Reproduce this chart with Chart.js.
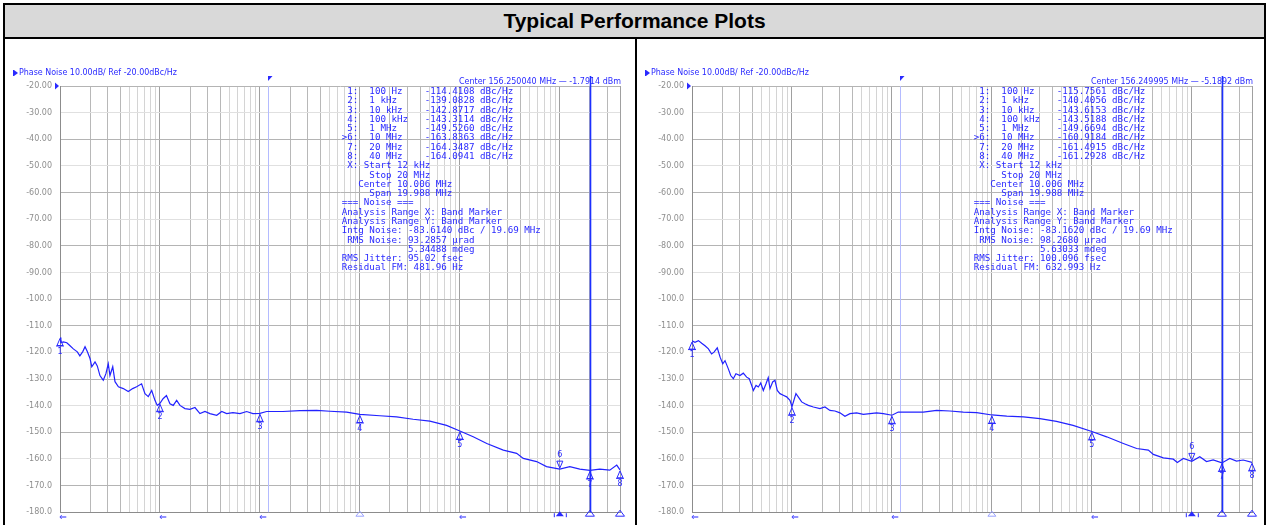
<!DOCTYPE html>
<html>
<head>
<meta charset="utf-8">
<title>Typical Performance Plots</title>
<script src="https://cdn.jsdelivr.net/npm/chart.js@4.4.1/dist/chart.umd.min.js"></script>
<style>
    body { margin: 0; background: #fff; }
    #page { position: relative; width: 1269px; height: 525px; overflow: hidden; background: #fff; }
    #head {
        position: absolute; left: 3px; top: 3px; width: 1263px; height: 36px; box-sizing: border-box;
        border: 2px solid #000; background: #d9d9d9; text-align: center;
        font: bold 21px "Liberation Sans", Arial, sans-serif; line-height: 32px; color: #000;
    }
    #body {
        position: absolute; left: 3px; top: 37px; width: 1263px; height: 600px; box-sizing: border-box;
        border-left: 2px solid #000; border-right: 2px solid #000;
    }
    #divider { position: absolute; left: 635px; top: 37px; width: 2px; height: 600px; background: #000; }
    canvas { position: absolute; top: 40px; }
    #plotLeft { left: 5px; }
    #plotRight { left: 637px; }
</style>
</head>
<body>
<div id="page">
    <div id="head">Typical Performance Plots</div>
    <div id="body"></div>
    <div id="divider"></div>
    <canvas id="plotLeft" width="630" height="485"></canvas>
    <canvas id="plotRight" width="628" height="485"></canvas>
</div>
<script>
// offset frequency (Hz) and phase noise (dBc/Hz)
var leftFreq = [100, 102, 108, 117, 126, 136, 149, 158, 169, 178, 188, 200, 208, 224, 236, 251, 271, 288, 304, 316,
    337, 355, 384, 430, 482, 533, 584, 655, 708, 764, 827, 891, 940, 1000, 1074, 1161, 1259, 1358, 1469, 1585,
    1778, 1995, 2239, 2512, 2818, 3162, 3698, 4150, 4648, 5370, 6310, 7362, 8511, 10000, 11670, 16980, 25120,
    36980, 50120, 73620, 100000, 158500, 233000, 341000, 501200, 736000, 1000000, 1360000, 1860000, 2720000,
    3700000, 4310000, 5860000, 7360000, 10000000, 12600000, 15850000, 20000000, 25100000, 31600000, 37100000, 40000000];
var leftNoise = [-114.4, -116.4, -116.1, -116.4, -117.5, -118.7, -119.8, -121.3, -119.7, -117.9, -119.8, -122.4,
    -125.4, -123.6, -125.1, -128.7, -130.5, -128.0, -124.3, -128.7, -125.4, -131.0, -132.9, -133.6, -134.7, -133.6,
    -132.9, -131.8, -135.5, -136.6, -134.3, -138.0, -139.9, -139.1, -137.4, -136.2, -139.3, -139.9, -138.0, -139.9,
    -141.1, -141.4, -140.7, -143.0, -142.2, -143.0, -143.6, -142.2, -143.0, -142.6, -143.0, -142.2, -143.0, -142.9,
    -142.2, -142.2, -141.9, -141.8, -142.1, -142.4, -143.3, -143.8, -144.2, -145.1, -145.8, -147.4, -149.5, -151.7,
    -154.2, -156.7, -157.9, -159.8, -161.0, -162.9, -163.8, -162.9, -163.8, -164.3, -163.8, -164.2, -162.3, -164.1];

var rightFreq = [100, 107, 116, 125, 135, 146, 157, 166, 179, 191, 203, 214, 231, 244, 259, 275, 302, 326, 352, 374,
    395, 411, 437, 461, 487, 517, 550, 579, 603, 641, 676, 713, 759, 818, 885, 955, 1000, 1096, 1156, 1250, 1349,
    1459, 1637, 1905, 2138, 2399, 2692, 3020, 3388, 3802, 4436, 5176, 6026, 7031, 8204, 10000, 11570, 15140, 20610,
    28050, 38020, 51760, 70470, 100000, 140900, 207000, 302000, 442600, 648600, 1000000, 1406000, 2065000, 2807000,
    3673000, 4121000, 5188000, 6531000, 7161000, 8222000, 10000000, 12020000, 14030000, 16370000, 20000000,
    23990000, 27990000, 32660000, 40000000];
var rightNoise = [-115.7, -116.2, -115.6, -116.6, -117.5, -118.7, -120.6, -119.9, -118.3, -121.8, -124.3, -123.1,
    -126.2, -128.7, -129.9, -128.0, -128.7, -127.8, -129.3, -129.9, -132.4, -134.3, -132.4, -133.0, -131.5, -134.3,
    -131.8, -129.5, -133.6, -131.1, -130.5, -134.3, -135.5, -136.1, -136.7, -138.0, -140.4, -135.5, -136.7, -138.6,
    -139.3, -139.9, -140.5, -141.1, -140.5, -141.8, -142.0, -142.7, -144.0, -143.0, -142.7, -143.3, -143.0, -142.7,
    -143.0, -143.6, -142.4, -142.4, -142.4, -141.8, -142.0, -142.4, -142.6, -143.5, -143.9, -144.2, -144.9, -145.9,
    -147.4, -149.7, -151.7, -154.2, -156.1, -156.7, -158.3, -159.6, -160.1, -161.3, -159.8, -160.9, -159.2, -161.0,
    -160.4, -161.5, -159.8, -160.8, -160.4, -161.3];

// marker readout
var markerFreqs = [100, 1e3, 1e4, 1e5, 1e6, 1e7, 2e7, 4e7];
var markerFreqText = ['100 Hz', '1 kHz', '10 kHz', '100 kHz', '1 MHz', '10 MHz', '20 MHz', '40 MHz'];
var leftMarkers = [-114.4108, -139.0828, -142.8717, -143.3114, -149.5260, -163.8363, -164.3487, -164.0941];
var rightMarkers = [-115.7561, -140.4056, -143.6153, -143.5188, -149.6694, -160.9184, -161.4915, -161.2928];
var activeMarker = 5;
var bandStart = 12e3;
var bandStop = 20e6;

// integrated noise: intg, rms rad, rms deg, jitter, residual FM
var leftSummary = ['-83.6140', '93.2857', '5.34488', '95.02', '481.96'];
var rightSummary = ['-83.1620', '98.2680', '5.63033', '100.096', '632.993'];
var leftCenter = 'Center 156.250040 MHz \u2014 -1.7914 dBm';
var rightCenter = 'Center 156.249995 MHz \u2014 -5.1892 dBm';
var plotTitle = 'Phase Noise 10.00dB/ Ref -20.00dBc/Hz';

var yTickValues = [-20, -30, -40, -50, -60, -70, -80, -90, -100, -110, -120, -130, -140, -150, -160, -170, -180];
var yTickLabels = ['-20.00', '-30.00', '-40.00', '-50.00', '-60.00', '-70.00', '-80.00', '-90.00', '-100.0',
    '-110.0', '-120.0', '-130.0', '-140.0', '-150.0', '-160.0', '-170.0', '-180.0'];
var yDarkLines = [-20, -40, -60, -80, -100, -110, -130, -150, -170, -180];

var traceColor = '#2222ff';
var textBlue = '#2a2aff';
var panels = {};

function logGrid(min, max) {
    var out = [];
    for (var d = 100; d <= max; d *= 10) {
        for (var m = 1; m <= 9; m++) {
            if (m * d >= min && m * d <= max) out.push(m * d);
        }
    }
    return out;
}

function tableLines(vals, s) {
    var lines = [];
    for (var i = 0; i < markerFreqs.length; i++) {
        var tag = (i === activeMarker ? '>' : ' ') + (i + 1) + ':  ';
        lines.push(tag + (markerFreqText[i] + '          ').slice(0, 10) + vals[i].toFixed(4) + ' dBc/Hz');
    }
    return lines.concat([
        ' X: Start 12 kHz',
        '     Stop 20 MHz',
        '   Center 10.006 MHz',
        '     Span 19.988 MHz',
        '=== Noise ===',
        'Analysis Range X: Band Marker',
        'Analysis Range Y: Band Marker',
        'Intg Noise: ' + s[0] + ' dBc / 19.69 MHz',
        ' RMS Noise: ' + s[1] + ' \u00b5rad',
        '            ' + s[2] + ' mdeg',
        'RMS Jitter: ' + s[3] + ' fsec',
        'Residual FM: ' + s[4] + ' Hz'
    ]);
}

function tri(ctx, x1, y1, x2, y2, x3, y3, fill) {
    ctx.beginPath();
    ctx.moveTo(x1, y1);
    ctx.lineTo(x2, y2);
    ctx.lineTo(x3, y3);
    ctx.closePath();
    if (fill) ctx.fill(); else ctx.stroke();
}

var phasePlugin = {
    id: 'phaseNoise',
    beforeDatasetsDraw: function(chart) {
        var ctx = chart.ctx, a = chart.chartArea;
        var xs = Math.round(chart.scales.x.getPixelForValue(bandStart)) + 0.5;
        ctx.save();
        ctx.strokeStyle = '#b4bbff';
        ctx.lineWidth = 1;
        ctx.beginPath();
        ctx.moveTo(xs, a.top);
        ctx.lineTo(xs, a.bottom);
        ctx.stroke();
        ctx.restore();
    },
    afterDraw: function(chart) {
        var p = panels[chart.canvas.id];
        var ctx = chart.ctx, a = chart.chartArea, sx = chart.scales.x, sy = chart.scales.y;
        ctx.save();
        ctx.fillStyle = textBlue;
        ctx.strokeStyle = textBlue;
        ctx.lineWidth = 1;

        // title and carrier line
        ctx.font = '8.5px "DejaVu Sans"';
        ctx.textBaseline = 'middle';
        ctx.textAlign = 'left';
        tri(ctx, a.left - 46, a.top - 16, a.left - 46, a.top - 10, a.left - 42, a.top - 13, true);
        ctx.fillRect(a.left - 47, a.top - 16, 1, 6);
        ctx.fillText(plotTitle, a.left - 41, a.top - 13, 158);
        ctx.textAlign = 'right';
        ctx.fillText(p.center, a.right + 1, a.top - 4, 162);

        // reference level arrow
        tri(ctx, a.left - 5, a.top - 3.5, a.left - 5, a.top + 3.5, a.left - 1, a.top, true);

        // band markers
        var x12 = Math.round(sx.getPixelForValue(bandStart)) + 0.5;
        tri(ctx, x12 - 0.5, a.top - 10, x12 + 4, a.top - 10, x12 - 0.5, a.top - 5, true);
        var x20 = Math.round(sx.getPixelForValue(bandStop)) + 0.5;
        ctx.strokeStyle = '#1c30ff';
        ctx.lineWidth = 1.6;
        ctx.beginPath();
        ctx.moveTo(x20, a.top - 10);
        ctx.lineTo(x20, a.bottom);
        ctx.stroke();
        ctx.strokeStyle = textBlue;
        ctx.lineWidth = 1;

        // markers on the trace
        ctx.font = '8px "DejaVu Sans"';
        ctx.textAlign = 'center';
        for (var i = 0; i < markerFreqs.length; i++) {
            var px = sx.getPixelForValue(markerFreqs[i]);
            var py = sy.getPixelForValue(p.marks[i]);
            if (i === activeMarker) {
                tri(ctx, px, py - 1, px - 3, py - 8, px + 3, py - 8, false);
                ctx.fillText(String(i + 1), px, py - 14);
            } else {
                tri(ctx, px, py + 1, px - 3, py + 8, px + 3, py + 8, false);
                ctx.beginPath();
                ctx.moveTo(px - 4, py + 8.5);
                ctx.lineTo(px + 4, py + 8.5);
                ctx.stroke();
                ctx.fillText(String(i + 1), px, py + 14);
            }

            // position flags under the axis
            var b = a.bottom;
            if (i >= 6) {
                tri(ctx, px, b - 2, px - 4.5, b + 4, px + 4.5, b + 4, false);
            } else if (i === activeMarker) {
                tri(ctx, px, b - 1, px - 4, b + 4, px + 4, b + 4, true);
                ctx.fillRect(px - 6, b + 1, 1, 4);
                ctx.fillRect(px + 6, b + 1, 1, 4);
            } else if (i === 3) {
                ctx.strokeStyle = '#9aa2ff';
                tri(ctx, px, b - 1, px - 4, b + 4, px + 4, b + 4, false);
                ctx.strokeStyle = textBlue;
            } else {
                ctx.font = '9px "DejaVu Sans"';
                ctx.fillText('\u21d0', px + 3, b + 5);
                ctx.font = '8px "DejaVu Sans"';
            }
        }

        // marker table
        ctx.font = '9.2px "DejaVu Sans Mono"';
        ctx.textAlign = 'left';
        for (var j = 0; j < p.table.length; j++) {
            ctx.fillText(p.table[j], a.left + 281.7, a.top + 5.7 + j * 9.28);
        }
        ctx.restore();
    }
};

function makePlot(id, freqs, noise, marks, summary, center, padRight) {
    panels[id] = { marks: marks, table: tableLines(marks, summary), center: center };
    var points = freqs.map(function(f, i) { return { x: f, y: noise[i] }; });
    var xGrid = logGrid(100, 4e7);
    return new Chart(document.getElementById(id), {
        type: 'line',
        data: {
            datasets: [{
                data: points,
                borderColor: traceColor,
                borderWidth: 1.2,
                pointRadius: 0,
                tension: 0,
                fill: false
            }]
        },
        options: {
            responsive: false,
            animation: false,
            devicePixelRatio: 1,
            layout: { padding: { left: 0, top: 46, right: padRight, bottom: 11 } },
            plugins: { legend: { display: false }, tooltip: { enabled: false } },
            scales: {
                x: {
                    type: 'logarithmic',
                    min: 100,
                    max: 4e7,
                    afterBuildTicks: function(scale) {
                        scale.ticks = xGrid.map(function(v) { return { value: v }; });
                    },
                    afterFit: function(scale) { scale.height = 0; },
                    ticks: { display: false, autoSkip: false },
                    border: { display: true, color: '#8c8c8c' },
                    grid: {
                        drawTicks: false,
                        color: function(c) {
                            var v = c.tick ? c.tick.value : 0;
                            var m = Math.round(v / Math.pow(10, Math.floor(Math.log10(v) + 1e-9)));
                            if (m === 1 || v === 4e7) return '#a0a0a0';
                            if (m <= 4) return '#b8b8b8';
                            return '#d4d4d4';
                        }
                    }
                },
                y: {
                    min: -180,
                    max: -20,
                    afterFit: function(scale) { scale.width = 55; },
                    ticks: {
                        stepSize: 10,
                        autoSkip: false,
                        padding: 8,
                        color: '#8e8e8e',
                        font: { family: 'DejaVu Sans', size: 8 },
                        callback: function(value) {
                            var k = yTickValues.indexOf(Math.round(value));
                            return k < 0 ? '' : yTickLabels[k];
                        }
                    },
                    border: { display: true, color: '#8c8c8c' },
                    grid: {
                        drawTicks: false,
                        color: function(c) {
                            var v = c.tick ? Math.round(c.tick.value) : 0;
                            return yDarkLines.indexOf(v) >= 0 ? '#b4b4b4' : '#e0e0e0';
                        }
                    }
                }
            }
        },
        plugins: [phasePlugin]
    });
}

window.addEventListener('load', function() {
    Chart.defaults.font.family = 'DejaVu Sans';
    makePlot('plotLeft', leftFreq, leftNoise, leftMarkers, leftSummary, leftCenter, 15);
    makePlot('plotRight', rightFreq, rightNoise, rightMarkers, rightSummary, rightCenter, 13);
});
</script>
</body>
</html>
